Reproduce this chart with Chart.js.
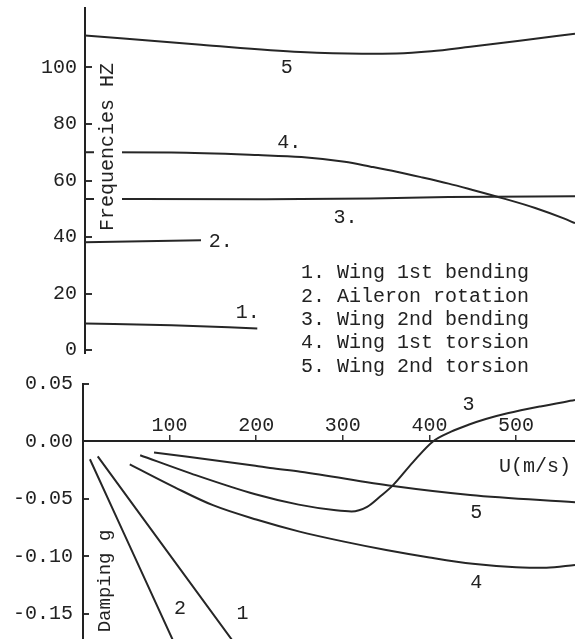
<!DOCTYPE html>
<html>
<head>
<meta charset="utf-8">
<script src="https://cdn.jsdelivr.net/npm/chart.js@4/dist/chart.umd.min.js"></script>
<style>
  html, body { margin: 0; padding: 0; background: #fff; }
  #wrap { position: relative; width: 575px; height: 639px; overflow: hidden; }
  canvas { position: absolute; left: 0; }
  #freqChart { top: 0; }
  #dampChart { top: 365px; }
</style>
</head>
<body>
<div id="wrap">
  <canvas id="freqChart" width="575" height="380"></canvas>
  <canvas id="dampChart" width="575" height="274"></canvas>
</div>
<script>
// legend entries
var modeNames = ['Wing 1st bending', 'Aileron rotation', 'Wing 2nd bending', 'Wing 1st torsion', 'Wing 2nd torsion'];

// axis ticks
var freqTicks = [0, 20, 40, 60, 80, 100];
var dampTicks = [0.05, 0, -0.05, -0.10, -0.15];
var speedTicks = [100, 200, 300, 400, 500];

// frequencies (Hz) against U (m/s)
var freqU1 = [0, 100, 199];
var freq1 = [9.4, 8.8, 7.7];
var freqU2 = [0, 134];
var freq2 = [38.2, 38.9];
var freqU3 = [0, 200, 330, 420, 566];
var freq3 = [53.5, 53.4, 53.6, 54.2, 54.4];
var freqU4 = [0, 100, 200, 250, 300, 330, 360, 388, 420, 446, 484, 520, 553, 566];
var freq4 = [70, 69.9, 69.0, 68.3, 66.6, 64.9, 63.1, 61.2, 58.9, 56.8, 53.6, 50.3, 46.6, 44.9];
var freqU5 = [0, 134, 249, 320, 360, 400, 445, 502, 566];
var freq5 = [111.3, 108, 105.4, 104.8, 104.9, 105.7, 107.3, 109.4, 111.9];

// damping g against U (m/s)
var dampU1 = [17, 179];
var damp1 = [-0.013, -0.18];
var dampU2 = [8, 108];
var damp2 = [-0.0155, -0.18];
var dampU3 = [66, 125, 199, 249, 292, 310, 328, 343, 358, 381, 404, 425, 445, 465, 490, 528, 568];
var damp3 = [-0.012, -0.028, -0.046, -0.055, -0.060, -0.061, -0.057, -0.048, -0.038, -0.018, 0, 0.0085, 0.0145, 0.0195, 0.0245, 0.0305, 0.036];
var dampU4 = [54, 106, 150, 200, 250, 300, 350, 400, 450, 500, 535, 568];
var damp4 = [-0.020, -0.040, -0.0555, -0.068, -0.0785, -0.087, -0.0945, -0.101, -0.1065, -0.1095, -0.110, -0.1075];
var dampU5 = [82, 199, 216, 251, 358, 447, 568];
var damp5 = [-0.0096, -0.0212, -0.0231, -0.0263, -0.0388, -0.0466, -0.053];

// curve numbers (placed at data coordinates)
var freqLabels = ['1.', '2.', '3.', '4.', '5'];
var freqLabelU = [181, 150, 294, 229, 233];
var freqLabelF = [13.4, 38.2, 47, 73.5, 100];
var dampLabels = ['1', '2', '3', '4', '5'];
var dampLabelU = [184, 112, 445, 454, 454];
var dampLabelG = [-0.150, -0.1455, 0.0318, -0.1233, -0.0623];

var FONT = '"Liberation Mono", "DejaVu Sans Mono", monospace';
var INK = '#222';

function points(us, vs) {
    return us.map(function (u, i) { return {x: u, y: vs[i]}; });
}
function curve(us, vs) {
    return {
        data: points(us, vs),
        borderColor: '#262626',
        borderWidth: 2,
        pointRadius: 0,
        cubicInterpolationMode: 'monotone',
        fill: false
    };
}
function fixTicks(list) {
    return function (s) { s.ticks = list.map(function (v) { return {value: v}; }); };
}
function fixWidth(w) {
    return function (s) {
        s.width = w;
        s.paddingTop = 0; s.paddingBottom = 0; s.paddingLeft = 0; s.paddingRight = 0;
    };
}
function rotatedTitle(ctx, text, cx, cy) {
    ctx.save();
    ctx.translate(cx, cy);
    ctx.rotate(-Math.PI / 2);
    var w = ctx.measureText(text).width;
    ctx.fillStyle = '#fff';
    ctx.fillRect(-w / 2 - 3, -14, w + 6, 28);
    ctx.fillStyle = INK;
    ctx.textAlign = 'center';
    ctx.fillText(text, 0, 0);
    ctx.restore();
}
function annotations(labels, us, vs, extra) {
    return {
        id: 'annotations',
        afterDatasetsDraw: function (chart) {
            var ctx = chart.ctx, xs = chart.scales.x, ys = chart.scales.y;
            ctx.save();
            ctx.font = '20px ' + FONT;
            ctx.fillStyle = INK;
            ctx.textBaseline = 'middle';
            ctx.textAlign = 'left';
            labels.forEach(function (t, i) {
                ctx.fillText(t, xs.getPixelForValue(us[i]) - 6, ys.getPixelForValue(vs[i]));
            });
            extra(ctx);
            ctx.restore();
        }
    };
}

var common = {
    responsive: false,
    animation: false,
    devicePixelRatio: 1,
    plugins: {legend: {display: false}, tooltip: {enabled: false}}
};

// Frequencies chart
var ctxFreq = document.getElementById('freqChart').getContext('2d');
new Chart(ctxFreq, {
    type: 'line',
    data: {
        datasets: [
            curve(freqU1, freq1), curve(freqU2, freq2), curve(freqU3, freq3),
            curve(freqU4, freq4), curve(freqU5, freq5)
        ]
    },
    options: Object.assign({}, common, {
        layout: {autoPadding: false, padding: {top: 8, bottom: 27, left: 0, right: 0}},
        scales: {
            x: {type: 'linear', min: 0, max: 566, display: false},
            y: {
                type: 'linear', min: -1, max: 121,
                afterBuildTicks: fixTicks(freqTicks),
                afterFit: fixWidth(85),
                grid: {display: true, drawOnChartArea: false, drawTicks: true, tickLength: -7, color: '#333', lineWidth: 2},
                border: {display: true, color: INK, width: 2},
                ticks: {color: INK, padding: 15, font: {family: FONT, size: 20}, callback: function (v) { return String(v); }}
            }
        }
    }),
    plugins: [annotations(freqLabels, freqLabelU, freqLabelF, function (ctx) {
        rotatedTitle(ctx, 'Frequencies HZ', 108, 147);
        ctx.fillStyle = INK;
        ctx.textAlign = 'left';
        modeNames.forEach(function (name, i) {
            ctx.fillText((i + 1) + '. ' + name, 301, 273 + i * 23.4);
        });
    })]
});

// Damping chart
var ctxDamp = document.getElementById('dampChart').getContext('2d');
new Chart(ctxDamp, {
    type: 'line',
    data: {
        datasets: [
            curve(dampU1, damp1), curve(dampU2, damp2), curve(dampU3, damp3),
            curve(dampU4, damp4), curve(dampU5, damp5)
        ]
    },
    options: Object.assign({}, common, {
        layout: {autoPadding: false, padding: {top: 19, bottom: 0, left: 0, right: 0}},
        scales: {
            x: {
                type: 'linear', min: 0, max: 568, position: {y: 0},
                afterBuildTicks: fixTicks(speedTicks),
                afterFit: function (s) { s.paddingLeft = 0; s.paddingRight = 0; },
                grid: {display: true, drawOnChartArea: false, drawTicks: true, tickLength: -7, color: '#333', lineWidth: 1.5},
                border: {display: true, color: INK, width: 2},
                ticks: {color: INK, padding: -21, maxRotation: 0, font: {family: FONT, size: 20}}
            },
            y: {
                type: 'linear', min: -0.172, max: 0.05,
                afterBuildTicks: fixTicks(dampTicks),
                afterFit: fixWidth(83),
                grid: {display: true, drawOnChartArea: false, drawTicks: true, tickLength: -6, color: '#333', lineWidth: 2},
                border: {display: true, color: INK, width: 2},
                ticks: {color: INK, padding: 16, font: {family: FONT, size: 20}, callback: function (v) { return v.toFixed(2); }}
            }
        }
    }),
    plugins: [annotations(dampLabels, dampLabelU, dampLabelG, function (ctx) {
        ctx.font = '19px ' + FONT;
        rotatedTitle(ctx, 'Damping g', 105, 216);
        ctx.font = '20px ' + FONT;
        ctx.fillStyle = INK;
        ctx.textAlign = 'center';
        ctx.fillText('U(m/s)', 535, 102);
    })]
});
</script>
</body>
</html>
